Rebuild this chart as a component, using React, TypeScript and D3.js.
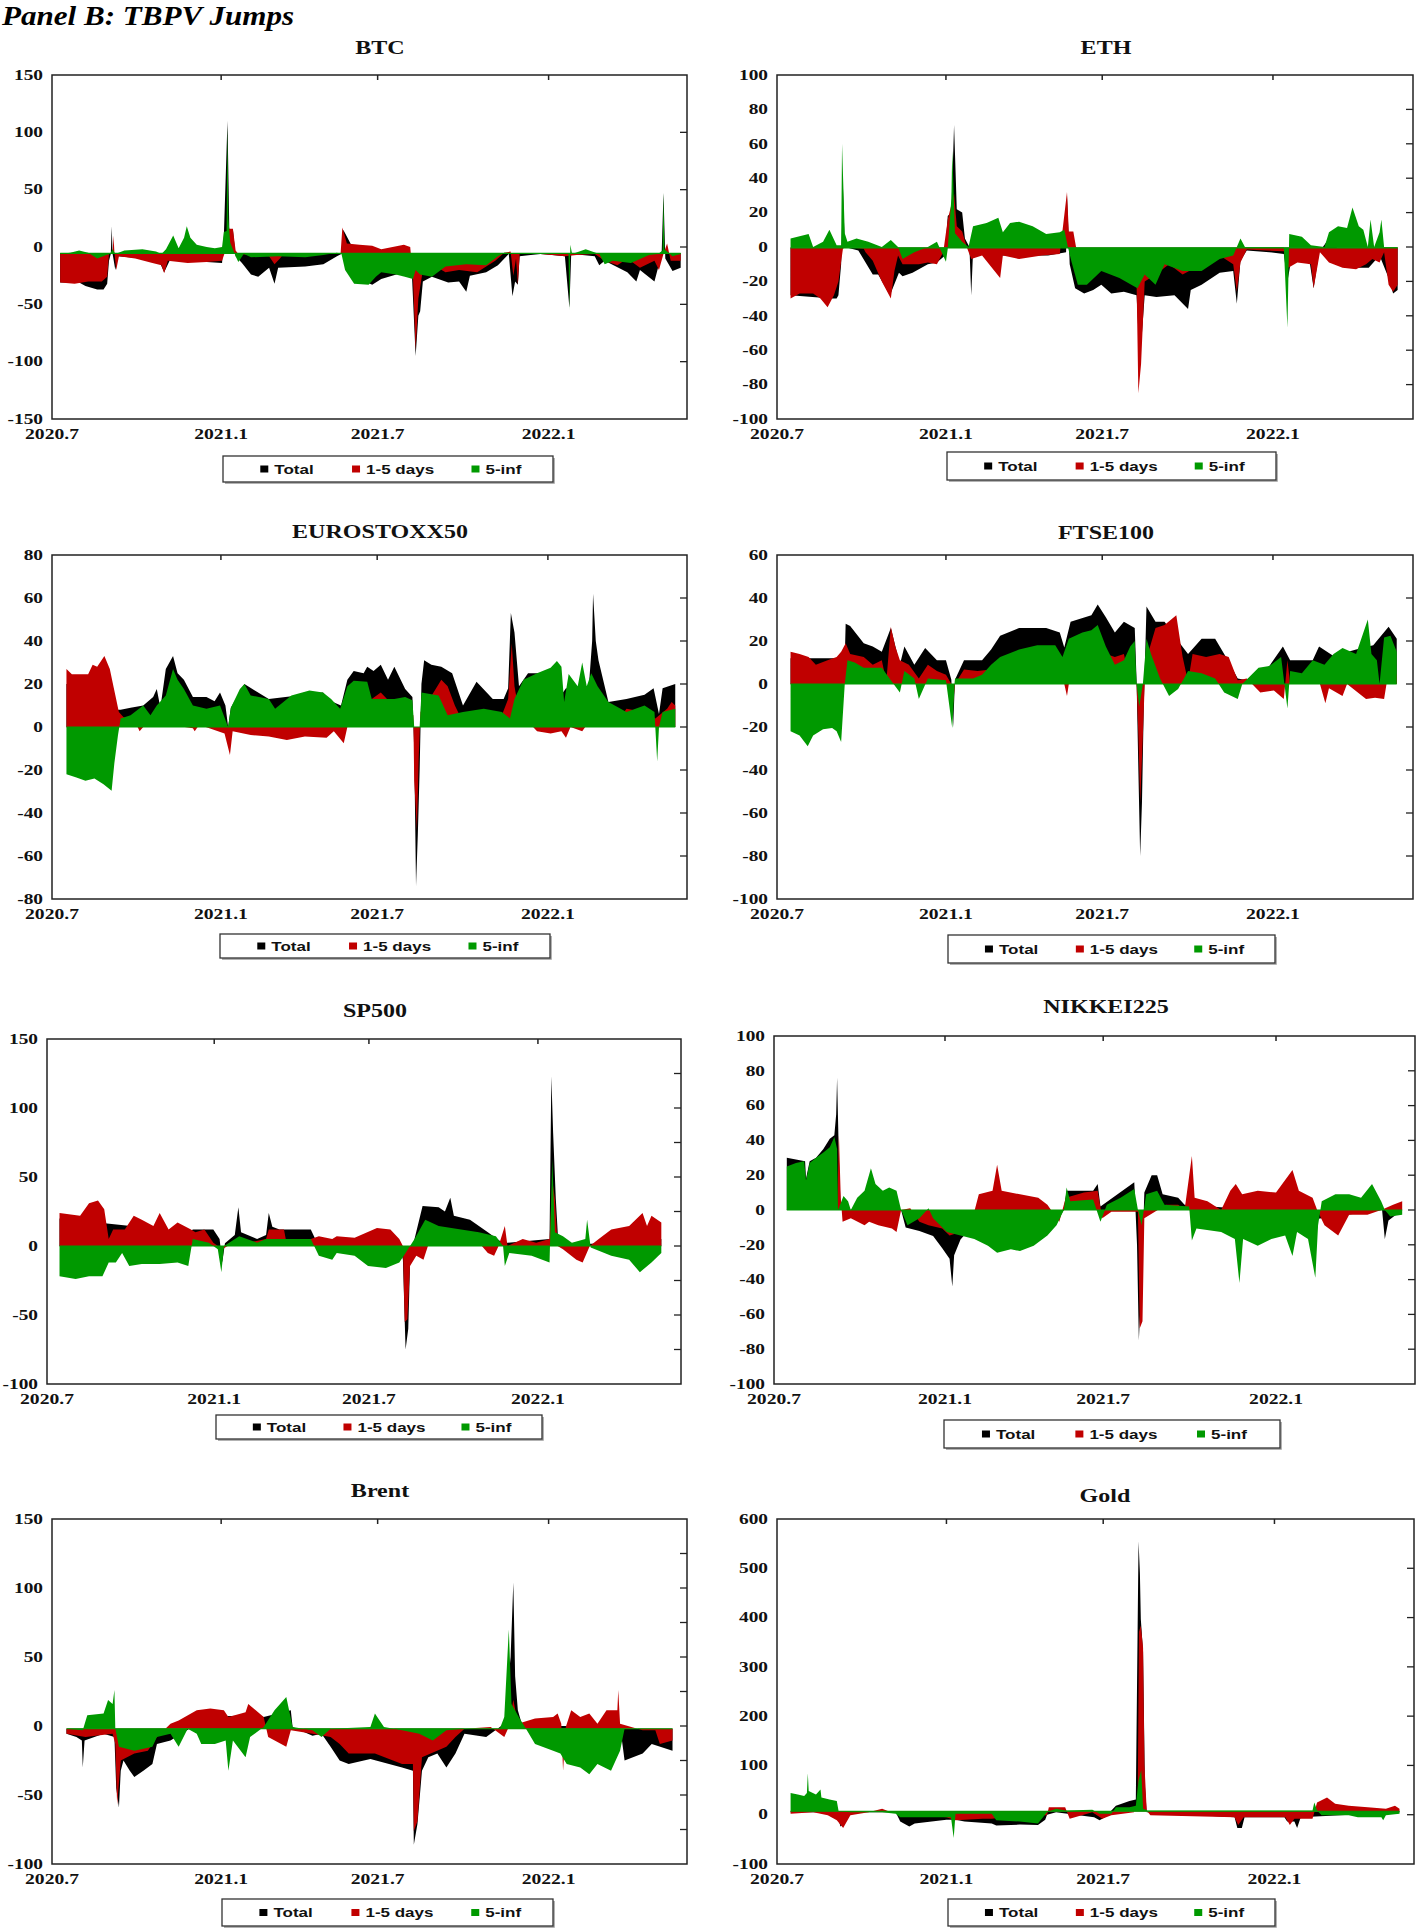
import * as d3 from 'd3';

type Pt = [number, number];

const xTickPos = [0, 187, 360, 549];
const xTickLabels = ['2020.7', '2021.1', '2021.7', '2022.1'];
const seriesNames = ['Total', '1-5 days', '5-inf'];
const seriesColors = ['#000000', '#c00000', '#009900'];

// BTC
const btcTotal: Pt[] = [[9,-31],[30,-31],[37,-34],[50,-37],[57,-37],[61,-32],[63,-12],[65,-6],[66,18],[67,-6],[70,-20],[73,-8],[100,-10],[120,-15],[124,-22],[130,-12],[150,-12],[171,-13],[188,-14],[190,10],[194,110],[196,16],[200,15],[203,-8],[210,-14],[220,-24],[228,-26],[240,-18],[246,-32],[250,-18],[280,-17],[300,-15],[315,-8],[320,-6],[322,15],[330,3],[340,-28],[354,-33],[364,-28],[389,-22],[398,-26],[402,-95],[405,-60],[407,-56],[410,-30],[420,-26],[438,-31],[450,-30],[458,-39],[462,-25],[480,-22],[493,-16],[505,-6],[509,-43],[512,-30],[515,-33],[517,-8],[540,-6],[567,-8],[572,-53],[574,-6],[600,-8],[605,-16],[611,-12],[636,-22],[646,-30],[650,-20],[666,-30],[670,-18],[674,-5],[676,47],[678,-10],[686,-21],[695,-18]];
const btcShort: Pt[] = [[9,-31],[25,-32],[40,-30],[55,-30],[61,-26],[63,-6],[67,-6],[68,10],[69,-5],[71,-20],[74,-8],[92,-10],[111,-14],[121,-16],[124,-23],[128,-12],[150,-14],[171,-13],[188,-12],[191,-5],[196,16],[200,16],[203,-3],[206,-6],[240,-8],[246,-15],[252,-10],[256,-6],[300,-6],[319,-6],[321,17],[326,3],[340,2],[354,1],[364,-2],[389,2],[396,0],[399,-25],[402,-90],[405,-45],[410,-20],[420,-15],[435,-22],[450,-20],[470,-22],[490,-12],[500,-5],[507,-4],[510,-25],[513,-10],[515,-33],[517,-6],[540,-6],[567,-8],[580,-7],[600,-6],[611,-12],[625,-16],[636,-10],[650,-18],[666,-12],[671,-20],[676,-6],[680,3],[684,-12],[695,-12]];
const btcLong: Pt[] = [[9,-6],[20,-5],[30,-3],[40,-5],[50,-10],[60,-7],[64,-6],[67,-2],[70,-6],[80,-3],[100,-2],[115,-4],[121,-6],[126,-2],[134,10],[140,-1],[146,8],[149,18],[153,8],[160,2],[171,0],[180,-1],[188,0],[190,13],[193,14],[194,105],[195,25],[197,4],[203,-8],[206,-13],[212,-6],[220,-9],[250,-8],[280,-9],[300,-7],[315,-5],[320,-6],[324,-20],[334,-32],[350,-33],[358,-26],[364,-22],[380,-24],[390,-26],[399,-28],[402,-20],[407,-24],[420,-26],[435,-17],[458,-15],[480,-16],[493,-8],[500,-5],[520,-6],[560,-6],[571,-6],[572,-55],[573,2],[575,-6],[590,-2],[605,-6],[611,-15],[620,-12],[640,-14],[660,-7],[670,-6],[675,-3],[676,47],[677,-2],[686,-8],[695,-6]];

// ETH
const ethTotal: Pt[] = [[15,-28],[60,-30],[66,-30],[68,-28],[71,-10],[73,35],[75,0],[90,-2],[106,-16],[112,-16],[125,-28],[135,-15],[139,-17],[150,-15],[167,-10],[177,-9],[186,-5],[189,18],[193,20],[196,71],[199,22],[205,20],[208,5],[213,0],[215,-28],[217,-3],[250,-5],[300,-5],[320,-3],[321,30],[324,-10],[330,-24],[340,-27],[350,-25],[359,-22],[370,-27],[384,-26],[398,-28],[401,-60],[404,-50],[407,-28],[420,-29],[440,-28],[455,-36],[458,-25],[470,-22],[490,-15],[505,-14],[509,-33],[513,-8],[520,-2],[545,-3],[561,-4],[565,-20],[570,-5],[590,-10],[594,-24],[600,-3],[611,5],[640,-12],[655,-12],[667,-5],[677,-18],[682,-27],[687,-25]];
const ethShort: Pt[] = [[15,-30],[25,-27],[40,-27],[48,-30],[56,-35],[63,-28],[68,-20],[73,-1],[76,0],[96,-1],[98,-3],[106,-8],[116,-20],[126,-30],[130,-14],[134,-5],[139,-10],[157,-10],[167,-9],[177,-10],[184,-3],[189,16],[196,31],[199,12],[205,9],[210,0],[215,-7],[227,-5],[247,-18],[250,-5],[268,-7],[293,-5],[313,-4],[321,32],[323,9],[328,9],[331,0],[359,-7],[369,-10],[384,-9],[398,-20],[400,-85],[403,-68],[407,-20],[419,-16],[434,-10],[449,-16],[470,-10],[490,-5],[505,-10],[509,-26],[513,-9],[520,-1.5],[561,-2.5],[566,-12],[576,-9],[591,-10],[594,-24],[601,-3],[611,-9],[626,-12],[641,-13],[652,-10],[659,-7],[667,-9],[672,-3],[677,-22],[682,-26],[687,-22]];
const ethLong: Pt[] = [[15,5],[35,7.6],[40,0],[51,3],[58,10],[66,1],[71,1],[72,60],[75,8],[78,3],[88,5],[101,3],[116,0],[126,4],[134,0],[139,-7],[152,-3],[167,0],[177,3],[187,-8.6],[189,-1],[193,28],[194,56],[197,8],[205,3],[212,0],[217,12],[232,14],[245,17],[250,8.6],[258,14],[268,14.7],[283,12],[298,7.6],[313,8.6],[318,10],[322,0],[326,-8.6],[333,-22],[343,-22],[359,-14],[379,-18],[399,-24],[407,-16],[419,-22],[429,-10],[449,-14],[470,-14],[490,-7],[505,-5],[513,5],[518,0],[561,0],[565,-47],[567,7.6],[581,6],[591,1],[606,0],[611,8.6],[621,12],[631,11],[637,23],[644,12],[649,10],[654,0],[657,16],[661,0],[667,8.6],[669,16],[672,0],[687,0]];

// EUROSTOXX50
const euroTotal: Pt[] = [[16,20],[66,22],[70,8],[76,8],[87,9],[101,10],[112,14],[116,17.7],[120,9],[126,27],[134,33],[139,25],[146,22],[156,14],[171,14],[180,12],[186,16],[192,10],[195,0],[198,9],[213,20],[240,13],[300,16],[309,12],[320,10],[327,22],[334,26],[345,25],[349,28],[356,26],[364,29],[372,22],[379,28],[391,17.7],[399,14],[401,-10],[403,-74],[405,-50],[407,-20],[409,20],[412,31],[420,29],[431,28],[443,25],[455,10],[470,21],[488,13],[500,13],[505,18],[508,53],[512,44],[517,19],[527,25],[557,25],[564,15],[569,18],[582,17],[587,19],[594,17],[598,40],[599,62],[602,40],[605,31],[616,11.6],[636,13],[656,15],[666,18],[672,6],[676,18],[690,20]];
const euroShort: Pt[] = [[16,27],[22,24.5],[40,24.5],[45,29],[50,28],[58,33],[64,27],[68,19],[71,13],[74,7],[79,4.7],[92,2.4],[97,-2],[101,0],[116,2],[156,-0.6],[158,-2],[163,1],[191,-3],[197,-13],[200,-2],[220,-3.7],[240,-4.4],[260,-6],[280,-4.4],[304,-5],[312,-2],[323,-7.5],[327,0],[354,13],[364,16],[374,11.6],[389,10],[400,5.5],[401,-25],[404,-48],[406,-14],[408,7],[418,13],[431,22],[438,19],[446,10],[453,4],[468,7],[488,7],[498,5.5],[505,13],[509,39],[512,19],[517,7],[537,-2],[552,-3],[564,-2],[569,-5],[574,0],[587,-2],[597,4],[621,7],[626,2.4],[636,8.5],[656,7],[668,4],[681,8.5],[686,11.6],[690,10]];
const euroLong: Pt[] = [[16,-22],[27,-23.5],[37,-25],[47,-24],[57,-26.6],[66,-29.6],[69,-17],[73,-4],[76,4],[87,5.5],[101,10],[109,5.5],[116,10],[126,14.7],[134,27],[139,22],[146,17.7],[156,10],[171,8.5],[186,10],[195,0],[198,9],[208,17.7],[213,20],[220,14.7],[240,13],[247,8.5],[265,14.7],[285,17],[300,16],[309,13],[319,8.5],[327,19],[334,21.5],[349,21],[354,13],[379,13],[391,14],[399,12.4],[401,0],[407,0],[409,16],[428,14.7],[438,5.5],[455,7],[478,8.5],[498,7],[507,4],[512,13],[522,22],[537,25],[552,27.6],[559,30.7],[564,28],[567,11.6],[572,24.6],[582,19],[587,30],[592,19],[597,25],[604,19],[616,11.6],[636,7],[656,10],[667,7],[670,-16],[672,0],[676,7],[690,8.5]];

// FTSE100
const ftseTotal: Pt[] = [[15,12],[75,12],[76,28],[81,27],[96,19],[106,17.5],[116,15],[126,26],[136,9],[141,17.5],[152,9],[164,16.7],[177,11],[187,11],[193,2],[195,-20],[197,2],[207,11],[227,11],[237,16],[247,22.5],[268,26],[298,26],[313,24],[318,17],[325,29],[348,32],[355,37],[364,31],[374,24],[384,29],[396,26],[398,2],[400,-40],[402,-80],[404,-55],[406,-10],[409,36],[419,29],[429,29],[444,20],[455,14],[470,21],[485,21],[495,14],[510,2.6],[520,1.8],[545,8.4],[560,17.5],[568,11],[593,11],[600,17.5],[616,13],[641,16],[660,18],[677,26.6],[686,21]];
const ftseShort: Pt[] = [[15,15],[25,14],[35,12.6],[43,9],[56,11],[66,12.6],[71,15],[76,19],[81,14],[96,12.6],[106,9],[116,11],[121,1],[126,26.6],[131,17.5],[136,11],[146,9],[157,2.6],[167,9],[177,6],[187,4.3],[193,0],[195,-9],[197,0],[207,6.8],[222,6],[237,6.8],[247,4.3],[268,0],[318,0],[321,-5.6],[323,0],[359,0],[364,14],[374,12.6],[384,14],[389,4.3],[398,0],[400,-24],[402,-55],[405,-24],[407,0],[412,16],[419,26],[429,27.4],[442,32],[449,12.6],[455,1],[460,14],[475,12.6],[490,14],[500,12.6],[510,1.8],[520,2.6],[535,-4],[550,-3],[561,-7],[565,11],[568,0],[601,0],[607,-9],[611,-2],[626,-5.6],[631,0],[652,-7],[662,-6.4],[672,-7],[677,6],[686,4.3]];
const ftseLong: Pt[] = [[15,-22],[25,-24],[34,-29],[40,-24],[51,-21],[61,-20.5],[66,-22],[71,-27],[75,0],[78,11],[86,10],[96,7.6],[116,7.6],[126,1.8],[136,-4],[141,6],[152,2.6],[157,-7],[167,2.6],[187,1.8],[194,-20.5],[197,2.6],[217,2.6],[227,4.3],[237,9],[247,12.6],[268,16],[288,18],[308,18],[316,12.6],[323,21],[338,24],[348,25],[355,27.4],[364,17.5],[374,9],[384,11],[391,17.5],[396,20],[398,0],[401,-10.6],[405,0],[409,21],[414,14],[424,2.6],[434,-5.6],[444,-2.3],[455,6],[470,5],[485,2.6],[495,-4],[510,-7],[515,0],[533,7.6],[545,8.4],[558,12.6],[565,-11.4],[568,6],[581,5],[593,11],[606,9],[616,14],[626,16.7],[641,14],[654,30],[658,14],[664,11],[667,0],[672,21.6],[679,22.5],[686,15]];

// SP500
const spTotal: Pt[] = [[14,20],[160,10],[163,12],[186,12],[193,5],[196,-12],[199,2],[210,8],[214,28],[217,10],[235,5],[245,8],[248,24],[252,14],[260,12],[295,12],[300,5],[394,3],[398,-10],[401,-75],[404,-60],[406,-12],[411,5],[420,29],[438,28],[445,25],[451,35],[455,22],[473,19],[493,10],[510,2],[562,5],[564,123],[566,82],[569,34],[572,0],[687,5]];
const spShort: Pt[] = [[14,24],[37,22],[47,31],[57,33],[64,26.6],[69,5],[74,12],[87,12],[97,22],[106,19],[119,14.5],[126,24],[136,12],[146,17],[161,12],[166,10],[176,12],[186,2.4],[196,-2.4],[215,5],[225,2.4],[245,5],[248,12],[265,12],[267,5],[295,5],[304,7],[319,5],[324,7],[344,6],[369,13],[384,12],[394,5],[398,0],[400,-55],[403,-53],[406,-14.5],[413,-7],[421,-10],[426,0],[438,5],[453,10],[473,10],[493,-5],[500,-7],[505,0],[512,14.5],[515,0],[532,5],[547,2.4],[562,5],[565,48],[568,34],[571,0],[577,-2.4],[592,-10],[599,-12],[607,0],[617,5],[631,12],[651,14.5],[666,24],[671,14.5],[676,22],[687,17]];
const spLong: Pt[] = [[14,-22],[32,-24],[47,-22],[62,-22],[69,-12],[77,-12],[84,-5],[92,-14.5],[106,-13],[126,-13],[146,-12],[158,-14.5],[163,5],[181,2.4],[191,-2.4],[195,-19],[198,0],[215,7],[235,2.4],[245,5],[265,5],[295,5],[304,-7],[319,-10],[324,-5],[344,-7],[359,-14.5],[379,-16],[394,-12],[401,-5],[411,5],[423,19],[438,14.5],[463,12],[483,10],[502,7],[510,0],[512,-14.5],[517,-5],[542,-7],[562,-12],[565,63],[568,10],[577,7],[587,2.4],[602,5],[604,19],[608,-1],[631,-7],[651,-10],[663,-19],[676,-12],[687,-5]];

// NIKKEI225
const nikTotal: Pt[] = [[14,30],[34,28],[35,18],[39,28],[46,30],[54,35],[61,41],[66,43],[68,55],[69,76],[71,29],[73,0],[139,0],[144,-10],[159,-12],[174,-15],[184,-22],[192,-28],[195,-44],[197,-26],[204,-17],[219,-8],[225,0],[309,-6.7],[317,0],[320,11],[349,11],[354,15],[357,2],[394,16],[397,-20],[399,-75],[402,-40],[405,10],[413,20],[419,20],[425,9],[442,7],[449,3],[590,-2],[592,-22],[595,-5],[665,0],[668,-16.6],[672,-6],[687,0]];
const nikShort: Pt[] = [[14,0],[69,0],[71,43],[73,7],[75,-6.7],[84,-4.8],[99,-8.7],[104,-6.7],[114,-8.7],[129,-10.7],[134,-12.7],[139,0],[149,1],[159,-6.7],[169,-8.7],[184,-10.7],[192,-14.6],[204,-12.7],[219,-1],[224,9],[239,11],[244,26],[249,11],[269,9],[289,7],[299,3],[312,-6.7],[319,7],[339,10],[354,11],[359,-4.8],[369,-1],[398,-1],[400,-68],[403,-64],[405,-4.8],[429,3],[442,3],[449,0],[457,31],[460,7],[474,5],[489,0],[499,11],[505,15],[512,9],[529,11],[549,10],[567,23],[574,11],[589,7],[594,0],[602,-8.7],[617,-14.6],[629,-2.8],[649,-2.8],[664,0],[677,3],[687,5]];
const nikLong: Pt[] = [[14,25],[24,27],[33,28],[35,17],[39,27],[46,30],[54,33],[61,36],[66,42],[69,35],[70,0],[76,8],[81,5],[84,0],[91,7],[99,11],[106,24],[111,15],[119,11],[126,13],[134,11],[139,0],[146,-8.7],[159,-4.8],[169,1],[174,-4.8],[189,-12.7],[204,-14.6],[219,-16.6],[234,-20.6],[244,-24.5],[259,-22.6],[269,-23.6],[284,-20.6],[299,-14.6],[309,-8.7],[317,0],[320,13],[324,5],[349,6],[357,-6.7],[364,3],[379,7],[394,12],[398,0],[402,-8.7],[407,9],[419,11],[427,3],[454,2],[457,-17.6],[462,-10.7],[489,-12.7],[504,-16.6],[509,-42],[513,-16.6],[529,-20.6],[544,-16.6],[559,-14.6],[567,-26.5],[572,-12.7],[584,-16.6],[592,-39],[595,-8.7],[599,5],[614,9],[629,9],[642,7],[654,15],[664,5],[668,0],[674,-3.8],[687,-2.8]];

// Brent
const brentTotal: Pt[] = [[16,-5.6],[27,-8],[33,-10.5],[34,-30],[36,-10.5],[57,-5.6],[69,-8],[71,-45],[74,-59],[76,-32.4],[79,-25],[86,-32.4],[91,-37],[101,-32.4],[111,-27.5],[116,-13],[131,-10.5],[155,-0.7],[160,6.6],[229,7.8],[234,6.6],[264,11.5],[266,-0.7],[288,-7],[298,-5.6],[308,-15],[318,-25],[328,-27.5],[352,-24],[387,-30],[399,-32.4],[400,-86],[404,-71],[409,-32.4],[416,-22.7],[426,-20],[436,-30],[446,-20],[456,-5.6],[480,-8],[500,1.7],[507,50],[510,104],[512,36],[515,11.5],[520,0],[628,0],[633,-25],[653,-20],[663,-13],[686,-18]];
const brentShort: Pt[] = [[16,-5.6],[37,-8],[67,-5.6],[70,-13],[72,-57],[76,-25],[91,-20],[106,-18],[116,-8],[131,1.7],[140,4],[160,11.5],[175,12.7],[190,11.5],[195,6.6],[214,10],[217,16],[234,6.6],[239,-8],[259,-15],[264,-3],[288,-5.6],[308,-8],[318,-13],[328,-20],[357,-20],[377,-25],[387,-27.5],[399,-27.5],[400,-76],[404,-69],[409,-22.7],[436,-15],[446,-8],[456,-2],[485,-0.7],[500,-8],[505,-0.7],[510,19],[515,1.7],[534,5.4],[554,6.6],[559,9],[563,1.7],[565,-32.4],[568,-0.7],[574,11.5],[584,6.6],[594,9],[603,1.7],[613,11.5],[625,11.5],[626,26],[628,1.7],[653,-3],[667,-3],[672,-13],[686,-10.5]];
const brentLong: Pt[] = [[16,-2],[34,-3],[39,7.8],[57,9],[62,18.8],[67,16],[69,26],[70,-2],[74,-15],[91,-18],[111,-15],[116,-8],[131,-5.6],[140,-15],[150,-2],[160,-5.6],[165,-13],[180,-13],[192,-10.5],[195,-32.4],[200,-10.5],[214,-22.7],[219,-8],[234,-0.7],[246,11.5],[259,21],[266,-0.7],[288,-3],[298,-8],[308,-2],[352,-0.7],[357,9],[367,-0.7],[387,-3],[406,-5.6],[421,-10.5],[436,-3],[456,-2],[495,-2],[500,6.6],[505,70],[508,16],[517,5.4],[524,-2],[534,-13],[554,-18],[562,-20],[569,-27.5],[584,-30],[594,-35],[603,-27.5],[618,-32.4],[628,-18],[633,-2],[686,-2]];

// Gold
const goldTotal: Pt[] = [[15,5],[66,5],[70,-24],[73,-20],[81,5],[131,5],[136,-14],[146,-24],[152,-18],[187,-10],[197,-10],[207,-14],[237,-18],[242,-22],[268,-20],[288,-21],[296,-10],[298,0],[308,5],[350,-5],[356,-11],[362,-5],[374,18],[389,28],[396,31],[399,555],[400.5,490],[401.5,397],[404,330],[406,60],[408,5],[505,-5],[508,-27],[513,-27],[516,-5],[560,-5],[563,-14],[571,-14],[574,-27],[578,-5],[687,5]];
const goldShort: Pt[] = [[15,2],[40,5],[56,-1],[66,-11],[73,-27],[81,-1],[101,5],[116,12],[126,5],[141,2],[187,-5],[197,-11],[227,-8],[237,-8],[268,-1],[298,-1],[300,15],[318,15],[323,-8],[348,5],[359,-8],[369,-1],[394,5],[398,18],[399.5,371],[401.5,384],[404,339],[405.5,103],[408,8.5],[412,-1],[505,-5],[509,-21],[515,-5],[561,-5],[566,-21],[571,-8],[591,-8],[596,25],[607,35],[616,22],[631,18],[652,15],[672,12],[682,18],[687,12]];
const goldLong: Pt[] = [[15,44],[23,41],[30,38],[33,44],[34,84],[35,48],[43,41],[48,51],[49,35],[58,31],[66,28],[68,7],[81,5],[116,5],[131,2],[136,-5],[192,-5],[195,-47],[197,2],[237,2],[242,-11],[268,-14],[288,-18],[298,5],[308,12],[318,8.5],[348,10],[356,2],[369,2],[374,15],[389,15],[396,18],[399,70],[402,90],[404,12],[409,8.5],[591,8.5],[593,25],[596,8.5],[601,-1],[631,-1],[641,-5],[667,-5],[669,-11],[672,-1],[687,2]];

interface PanelSpec {
  title: string;
  series: Pt[][];
  yDomain: [number, number];
  labelStep: number;
  tickStep: number;
  base: number;
  xMax: number;
  frame: [number, number, number, number];
  titleX: number;
  titleY: number;
  legend: [number, number, number, number];
}

const panels: PanelSpec[] = [
  { title: 'BTC', series: [btcTotal, btcShort, btcLong], yDomain: [-150, 150], labelStep: 50, tickStep: 50, base: -5.5, xMax: 702, frame: [52, 75, 687, 419], titleX: 380, titleY: 54, legend: [223, 456, 553, 482] },
  { title: 'ETH', series: [ethTotal, ethShort, ethLong], yDomain: [-100, 100], labelStep: 20, tickStep: 20, base: -0.5, xMax: 704, frame: [777, 75, 1413, 419], titleX: 1106, titleY: 54, legend: [947, 452, 1276, 480] },
  { title: 'EUROSTOXX50', series: [euroTotal, euroShort, euroLong], yDomain: [-80, 80], labelStep: 20, tickStep: 20, base: 0, xMax: 703, frame: [52, 555, 687, 899], titleX: 380, titleY: 538, legend: [220, 934, 550, 958] },
  { title: 'FTSE100', series: [ftseTotal, ftseShort, ftseLong], yDomain: [-100, 60], labelStep: 20, tickStep: 20, base: 0, xMax: 704, frame: [777, 555, 1413, 899], titleX: 1106, titleY: 539, legend: [948, 935, 1275, 963] },
  { title: 'SP500', series: [spTotal, spShort, spLong], yDomain: [-100, 150], labelStep: 50, tickStep: 25, base: 0, xMax: 709, frame: [47, 1039, 681, 1384], titleX: 375, titleY: 1017, legend: [216, 1415, 542, 1439] },
  { title: 'NIKKEI225', series: [nikTotal, nikShort, nikLong], yDomain: [-100, 100], labelStep: 20, tickStep: 20, base: 0, xMax: 701, frame: [774, 1036, 1415, 1384], titleX: 1106, titleY: 1013, legend: [944, 1420, 1280, 1448] },
  { title: 'Brent', series: [brentTotal, brentShort, brentLong], yDomain: [-100, 150], labelStep: 50, tickStep: 25, base: -2, xMax: 702, frame: [52, 1519, 687, 1864], titleX: 380, titleY: 1497, legend: [222, 1899, 553, 1926] },
  { title: 'Gold', series: [goldTotal, goldShort, goldLong], yDomain: [-100, 600], labelStep: 100, tickStep: 100, base: 7, xMax: 703, frame: [777, 1519, 1414, 1864], titleX: 1105, titleY: 1502, legend: [948, 1899, 1275, 1926] },
];

const serif = "'Liberation Serif', 'Times New Roman', serif";
const sans = "'Liberation Sans', Arial, sans-serif";

// the figure is stretched horizontally, so text is widened a bit too
const stretch = (x: number, y: number, s: number) => `translate(${x},${y}) scale(${s},1)`;

function Panel({ p, idx }: { p: PanelSpec; idx: number }) {
  const [l, t, r, b] = p.frame;
  const x = d3.scaleLinear().domain([0, p.xMax]).range([l, r]);
  const y = d3.scaleLinear().domain(p.yDomain).range([b, t]);
  const area = d3.area<Pt>().x((d) => x(d[0])).y0(y(p.base)).y1((d) => y(d[1]));
  const labels = d3.range(p.yDomain[0], p.yDomain[1] + 1e-6, p.labelStep);
  const minor = d3.range(p.yDomain[0] + p.tickStep, p.yDomain[1] - 1e-6, p.tickStep);
  const longS = p.series[2];
  const [lx0, ly0, lx1, ly1] = p.legend;
  const lw = lx1 - lx0;
  const lcy = (ly0 + ly1) / 2;
  const itemPos = [0.113, 0.391, 0.753];
  const clipId = `clip-${idx}`;

  return (
    <g>
      <text transform={stretch(p.titleX, p.titleY, 1.3)} textAnchor="middle" fontFamily={serif} fontWeight="bold" fontSize={18.5} fill="#111">
        {p.title}
      </text>
      <clipPath id={clipId}>
        <rect x={l} y={t} width={r - l} height={b - t} />
      </clipPath>
      <g clipPath={`url(#${clipId})`}>
        {p.series.map((s, i) => (
          <path key={i} d={area(s) ?? ''} fill={seriesColors[i]} />
        ))}
        <line x1={x(longS[0][0])} x2={x(longS[longS.length - 1][0])} y1={y(p.base)} y2={y(p.base)} stroke={seriesColors[2]} strokeWidth={1.2} />
      </g>
      <rect x={l} y={t} width={r - l} height={b - t} fill="none" stroke="#222" strokeWidth={1.5} />
      {minor.map((v) => (
        <line key={`m${v}`} x1={r - 7} x2={r} y1={y(v)} y2={y(v)} stroke="#222" strokeWidth={1.3} />
      ))}
      {xTickPos.slice(1).map((d, i) => (
        <line key={`xt${i}`} x1={x(d)} x2={x(d)} y1={t} y2={t + 5} stroke="#222" strokeWidth={1.5} />
      ))}
      {labels.map((v) => (
        <text key={`yl${v}`} transform={stretch(l - 9, y(v) + 4.7, 1.38)} textAnchor="end" fontFamily={serif} fontWeight="bold" fontSize={14} fill="#111">
          {String(v)}
        </text>
      ))}
      {xTickPos.map((d, i) => (
        <text key={`xl${i}`} transform={stretch(x(d), b + 20, 1.4)} textAnchor="middle" fontFamily={serif} fontWeight="bold" fontSize={14} fill="#111">
          {xTickLabels[i]}
        </text>
      ))}
      <path d={`M${lx1 + 1},${ly0 + 2}V${ly1 + 1}H${lx0 + 2}`} fill="none" stroke="#999" strokeWidth={1.5} />
      <rect x={lx0} y={ly0} width={lw} height={ly1 - ly0} fill="#fff" stroke="#333" strokeWidth={1.3} />
      {seriesNames.map((name, i) => {
        const sx = lx0 + lw * itemPos[i];
        return (
          <g key={name}>
            <rect x={sx} y={lcy - 3.5} width={8} height={7} fill={seriesColors[i]} />
            <text transform={stretch(sx + 14, lcy + 4.6, 1.33)} fontFamily={sans} fontWeight="bold" fontSize={12.8} fill="#111">
              {name}
            </text>
          </g>
        );
      })}
    </g>
  );
}

export default function App() {
  return (
    <svg width={1416} height={1928} style={{ position: 'absolute', left: 0, top: 0, background: '#fff' }}>
      <rect width={1416} height={1928} fill="#fff" />
      <text x={2} y={24.5} fontFamily={serif} fontWeight="bold" fontStyle="italic" fontSize={27.5} textLength={292} lengthAdjust="spacingAndGlyphs" fill="#000">
        Panel B: TBPV Jumps
      </text>
      {panels.map((p, i) => (
        <Panel key={p.title} p={p} idx={i} />
      ))}
    </svg>
  );
}
